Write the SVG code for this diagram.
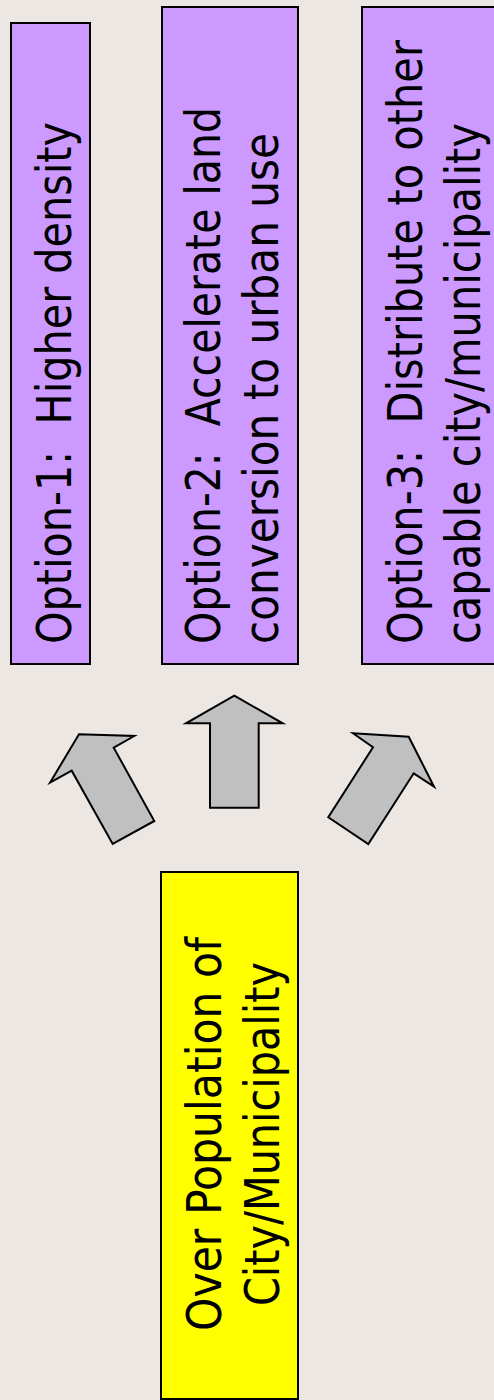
<svg xmlns="http://www.w3.org/2000/svg" width="494" height="1400" viewBox="0 0 494 1400">
<style>
.bg{fill:#ECE7E3}
.opt{fill:#CC99FF;stroke:#000;stroke-width:2}
.src{fill:#FFFF00;stroke:#000;stroke-width:2}
.arr{fill:#C0C0C0;stroke:#000;stroke-width:2;stroke-linejoin:miter}
.t{font-family:"DejaVu Sans","Liberation Sans",sans-serif;font-size:48px;fill:#000}
</style>
<rect class="bg" x="0" y="0" width="494" height="1400"/>
<g id="option1">
<rect class="opt" x="11" y="23" width="79" height="641"/>
<text class="t" xml:space="preserve" transform="translate(71,644) rotate(-90)" textLength="522" lengthAdjust="spacingAndGlyphs">Option-1:  Higher density</text>
</g>
<g id="option2">
<rect class="opt" x="162" y="7" width="136" height="657"/>
<text class="t" xml:space="preserve" transform="translate(220,644) rotate(-90)" textLength="537" lengthAdjust="spacingAndGlyphs">Option-2:  Accelerate land</text>
<text class="t" xml:space="preserve" transform="translate(278,644) rotate(-90)" textLength="511" lengthAdjust="spacingAndGlyphs">conversion to urban use</text>
</g>
<g id="option3">
<rect class="opt" x="362" y="7" width="140" height="657"/>
<text class="t" xml:space="preserve" transform="translate(421.5,644) rotate(-90)" textLength="604" lengthAdjust="spacingAndGlyphs">Option-3:  Distribute to other</text>
<text class="t" xml:space="preserve" transform="translate(480,644) rotate(-90)" textLength="521" lengthAdjust="spacingAndGlyphs">capable city/municipality</text>
</g>
<g id="source">
<rect class="src" x="161" y="872" width="137" height="527"/>
<text class="t" text-anchor="middle" transform="translate(221,1134) rotate(-90)" textLength="394" lengthAdjust="spacingAndGlyphs">Over Population of</text>
<text class="t" text-anchor="middle" transform="translate(279,1134) rotate(-90)" textLength="344" lengthAdjust="spacingAndGlyphs">City/Municipality</text>
</g>
<g id="connectors">
<polygon class="arr" points="50,782.7 79,734.3 134.3,736 113.7,747.7 154.3,821 112.7,844 71.7,770.7"/>
<polygon class="arr" points="234.3,695.7 282.7,723.3 258.7,723.3 258.7,807.7 210,807.7 210,723.3 186,723.3"/>
<polygon class="arr" points="353,733.3 408.7,736.7 434,786.7 413.7,773.3 368.3,844 328.3,817.3 373,747.3"/>
</g>
</svg>
